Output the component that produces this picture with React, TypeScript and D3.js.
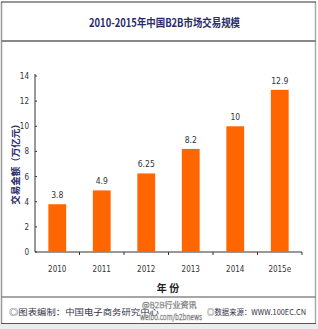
import React from "react";
import * as d3 from "d3";

const years = ["2010", "2011", "2012", "2013", "2014", "2015e"];
const values = [3.8, 4.9, 6.25, 8.2, 10, 12.9];
const valueLabels = ["3.8", "4.9", "6.25", "8.2", "10", "12.9"];
const yTicks = [0, 2, 4, 6, 8, 10, 12, 14];
const title = "2010-2015年中国B2B市场交易规模";
const yTitle = "交易金额（万亿元）";
const xTitle = "年 份";
const footLeft = "◎图表编制：中国电子商务研究中心";
const footRight = "◎数据来源：WWW.100EC.CN";

export default function App() {
  const W = 318, H = 329;
  const x0 = 35, x1 = 302, y0 = 252, yTop = 76;
  const x = d3.scaleBand().domain(years).range([x0, x1]).paddingInner(0.6).paddingOuter(0.3);
  const y = d3.scaleLinear().domain([0, 14]).range([y0, yTop]);
  const step = (x1 - x0) / years.length;
  const navy = "#2b2b6b";
  const font = "'Noto Sans CJK SC', 'DejaVu Sans', sans-serif";
  const narrow = "'Liberation Sans Narrow', 'DejaVu Sans Condensed', sans-serif";
  return (
    <svg width={W} height={H} style={{ position: "absolute", left: 0, top: 0, background: "#fff" }}>
      <rect x={0} y={0} width={W} height={H} fill="#fff" />
      <rect x={0} y={324} width={W} height={5} fill="#ececec" />
      {/* frame */}
      <line x1={1.5} y1={2} x2={1.5} y2={324} stroke="#999" strokeWidth={1.5} />
      <line x1={315.5} y1={2} x2={315.5} y2={324} stroke="#aaa" strokeWidth={1.5} />
      <line x1={1} y1={2} x2={316} y2={2} stroke="#333" strokeWidth={1.2} />
      <line x1={1} y1={41} x2={316} y2={41} stroke="#888" strokeWidth={2} />
      <line x1={1} y1={297} x2={316} y2={297} stroke="#888" strokeWidth={1.5} />
      <line x1={1} y1={323.5} x2={316} y2={323.5} stroke="#555" strokeWidth={1} />
      <text x={89} y={27} textLength={151} lengthAdjust="spacingAndGlyphs" fontSize={11.5} fontWeight="bold" fill={navy} fontFamily={font}>{title}</text>
      {/* y axis */}
      <line x1={x0} y1={yTop - 2} x2={x0} y2={y0} stroke="#333" strokeWidth={1} />
      {yTicks.map((t) => (
        <g key={t}>
          <line x1={x0} x2={x0 + 2} y1={y(t)} y2={y(t)} stroke="#333" />
          <text x={x0 - 6} y={y(t) + 3} textAnchor="end" fontSize={8} fill="#333" fontFamily={narrow}>{t}</text>
        </g>
      ))}
      <text transform={`translate(19,162) rotate(-90)`} textAnchor="middle" fontSize={9.5} fontWeight="bold" fill={navy} fontFamily={font}>{yTitle}</text>
      {/* x axis */}
      <line x1={x0} x2={x1} y1={y0} y2={y0} stroke="#333" strokeWidth={1} />
      {years.map((yr, i) => (
        <line key={"t" + yr} x1={x0 + step * (i + 1)} x2={x0 + step * (i + 1)} y1={y0} y2={y0 + 3} stroke="#333" />
      ))}
      {years.map((yr, i) => (
        <g key={yr}>
          <rect x={x(yr)} y={y(values[i])} width={x.bandwidth()} height={y0 - y(values[i])} fill="#ff6600" />
          <text x={x(yr)! + x.bandwidth() / 2} y={y(values[i]) - 6} textAnchor="middle" fontSize={8.5} fill="#333" fontFamily="'DejaVu Sans Condensed', sans-serif">{valueLabels[i]}</text>
          <text x={x(yr)! + x.bandwidth() / 2} y={272} textAnchor="middle" fontSize={8} fill="#333" fontFamily={narrow}>{yr}</text>
        </g>
      ))}
      <text x={168} y={292} textAnchor="middle" fontSize={10} fontWeight="bold" fill="#222" fontFamily={font}>{xTitle}</text>
      {/* footer */}
      <text x={9} y={315} textLength={150} lengthAdjust="spacingAndGlyphs" fontSize={8.5} fill="#334" fontFamily={font}>{footLeft}</text>
      {/* watermark */}
      <text x={142} y={308} fontSize={8} fill="#fff" stroke="#777" strokeWidth={0.4} fontFamily={font}>@B2B行业资讯</text>
      <text x={140} y={320} fontSize={8} textLength={62} lengthAdjust="spacingAndGlyphs" fill="#fff" stroke="#666" strokeWidth={0.4} fontFamily={font}>weibo.com/b2bnews</text>
      <text x={207} y={315} textLength={99} lengthAdjust="spacingAndGlyphs" fontSize={8} fill="#334" fontFamily={font}>{footRight}</text>
    </svg>
  );
}
